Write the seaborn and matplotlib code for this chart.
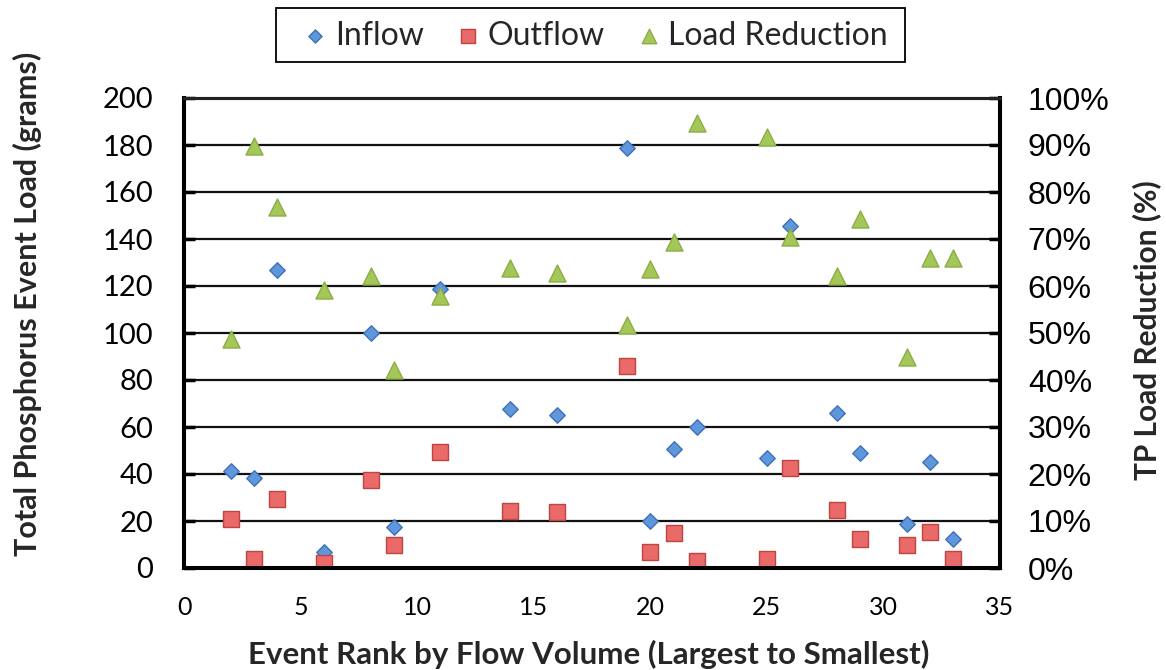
import matplotlib
matplotlib.use("Agg")
import matplotlib.pyplot as plt
import matplotlib.patches as mpatches
import seaborn as sns
import pandas as pd
from matplotlib.ticker import FuncFormatter

# Event ranks (largest to smallest flow volume)
event_rank = [2, 3, 4, 6, 8, 9, 11, 14, 16, 19, 20, 21, 22, 25, 26, 28, 29, 31, 32, 33]

# Total phosphorus event loads (grams)
inflow = [41.3, 38.4, 126.8, 6.8, 99.9, 17.6, 118.6, 67.7, 65.1, 178.6,
          20.1, 50.6, 60.1, 46.9, 145.5, 66.1, 48.8, 18.6, 45.0, 12.3]
outflow = [20.9, 3.7, 29.4, 2.3, 37.4, 9.8, 49.5, 24.4, 24.0, 86.0,
           6.9, 15.0, 3.0, 3.7, 42.4, 24.7, 12.3, 9.8, 15.2, 4.0]

# TP load reduction (%)
load_reduction = [48.8, 89.7, 76.8, 59.1, 62.1, 42.1, 57.9, 63.8, 62.7, 51.7,
                  63.6, 69.4, 94.6, 91.8, 70.5, 62.1, 74.2, 45.0, 66.0, 65.9]

left_ticks = [0, 20, 40, 60, 80, 100, 120, 140, 160, 180, 200]
right_ticks = [0, 10, 20, 30, 40, 50, 60, 70, 80, 90, 100]
x_ticks = [0, 5, 10, 15, 20, 25, 30, 35]

df = pd.DataFrame({"rank": event_rank, "inflow": inflow,
                   "outflow": outflow, "reduction": load_reduction})

sns.set_theme(style="white")
plt.rcParams["font.family"] = ["Lato", "DejaVu Sans"]

W, H = 1166, 670
fig = plt.figure(figsize=(W / 100, H / 100), dpi=100)
ax = fig.add_axes([184 / W, 1 - 568 / H, (1000 - 184) / W, (568 - 98) / H])
ax2 = ax.twinx()

# Horizontal gridlines
for v in left_ticks[1:-1]:
    ax.axhline(v, color="#111111", lw=1.6, zorder=0)

sns.scatterplot(data=df, x="rank", y="inflow", ax=ax, marker="D", s=62,
                color="#5E97DC", edgecolor="#3F72B5", linewidth=1.0,
                label="Inflow", legend=False, zorder=3)
sns.scatterplot(data=df, x="rank", y="outflow", ax=ax, marker="s", s=135,
                color="#E96A68", edgecolor="#BF4543", linewidth=1.0,
                label="Outflow", legend=False, zorder=3)
sns.scatterplot(data=df, x="rank", y="reduction", ax=ax2, marker="^", s=150,
                color="#A5C75A", edgecolor="#8AAE45", linewidth=1.0,
                label="Load Reduction", legend=False, zorder=3)

ax.set_xlim(0, 35)
ax.set_ylim(0, 200)
ax2.set_ylim(0, 100)
ax.set_xticks(x_ticks)
ax.set_yticks(left_ticks)
ax2.set_yticks(right_ticks)
ax2.yaxis.set_major_formatter(FuncFormatter(lambda v, p: f"{v:.0f}%"))

ax.tick_params(axis="x", direction="in", length=8, width=2.5, labelsize=18,
               pad=20, colors="black")
ax.tick_params(axis="y", direction="in", length=8, width=2.5, labelsize=21,
               pad=22, colors="black")
ax2.tick_params(axis="y", direction="in", length=8, width=2.5, labelsize=23,
                pad=20, colors="black")
for lbl in ax2.get_yticklabels():
    lbl.set_fontfamily(["Liberation Sans", "DejaVu Sans"])

for a in (ax, ax2):
    for side in ("left", "right", "bottom"):
        a.spines[side].set_linewidth(2.9)
        a.spines[side].set_color("black")
    a.spines["top"].set_linewidth(2.2)
    a.spines["top"].set_color("#222222")

ax.set_xlabel("Event Rank by Flow Volume (Largest to Smallest)", fontsize=22.5,
              fontweight="bold", va="center")
ax.xaxis.set_label_coords(0.496, -0.185)
ax.set_ylabel("Total Phosphorus Event Load (grams)", fontsize=22,
              fontweight="bold", va="center")
ax.yaxis.set_label_coords(-0.1924, 0.562)
ax2.set_ylabel("TP Load Reduction (%)", fontsize=21.5, fontweight="bold",
               va="center", rotation=90)
ax2.yaxis.set_label_coords(1.180, 0.506)

# Legend across the top, inside a plain rectangular frame
h1, l1 = ax.get_legend_handles_labels()
h2, l2 = ax2.get_legend_handles_labels()
leg = fig.legend(h1 + h2, l1 + l2, loc="center", bbox_to_anchor=(0.512, 0.947),
                 ncol=3, fontsize=23, frameon=False, markerscale=0.85,
                 handlelength=0.6, handletextpad=0.3, columnspacing=1.1,
                 borderpad=0.2)
fig.add_artist(mpatches.Rectangle((276 / W, 1 - 62 / H), (905 - 276) / W, 54 / H,
                                  transform=fig.transFigure, fill=False,
                                  edgecolor="black", linewidth=1.3))

fig.savefig("out.png", dpi=100)
